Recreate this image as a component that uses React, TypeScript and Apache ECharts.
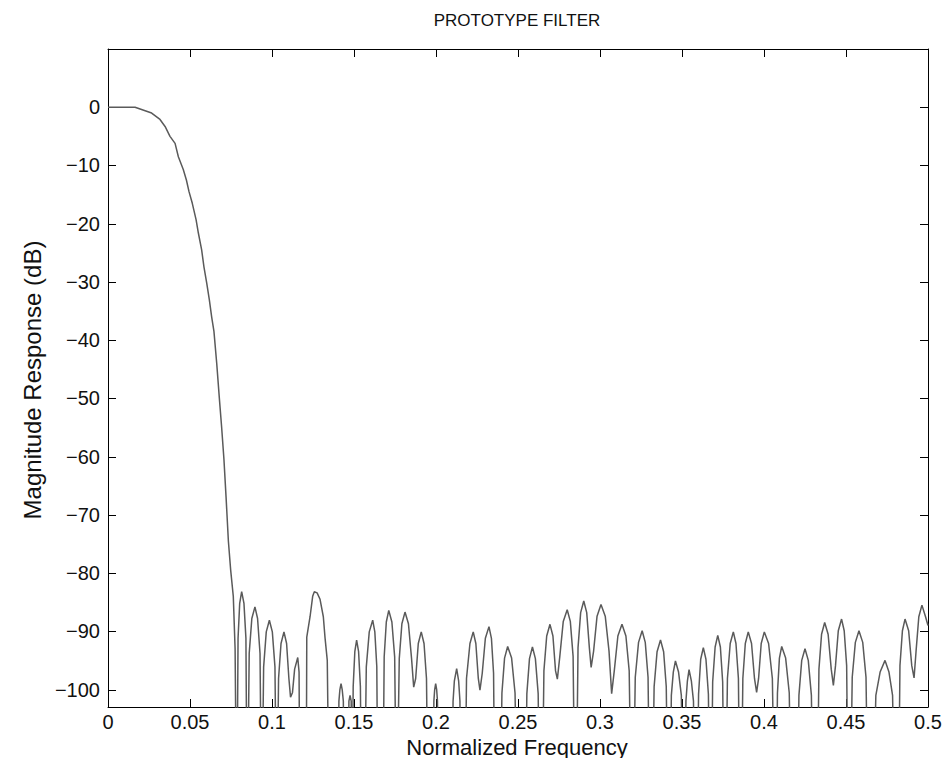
import React, { useEffect, useRef } from "react";
import * as echarts from "echarts";

// Passband and transition band (normalized frequency, dB)
const transitionPoints: [number, number][] = [
  [0, 0], [0.0165, 0], [0.0266, -1], [0.0317, -2.1], [0.0348, -3.3], [0.0378, -5],
  [0.0409, -6.2], [0.0429, -8.5], [0.0459, -10.7], [0.0478, -12.5], [0.0494, -14.5],
  [0.0514, -16.5], [0.0537, -19.3], [0.0551, -21.6], [0.0571, -24.5], [0.0585, -27.4],
  [0.0602, -30.2], [0.0618, -33.1], [0.0632, -36], [0.0646, -38.5], [0.0663, -44],
  [0.0679, -50], [0.0693, -55], [0.0707, -60.5], [0.072, -67], [0.0734, -74.5],
  [0.0748, -79.5], [0.0764, -84], [0.0775, -93],
];

// Stopband side lobes (nulls fall below the axis floor)
const stopbandPoints: [number, number][] = [
  [0.0785, -125],
  [0.0793, -91.2], [0.0803, -85.2], [0.0815, -83.2], [0.0829, -85.2], [0.0841, -91.2], [0.0849, -125],
  [0.0861, -93.8], [0.0877, -87.8], [0.0896, -85.8], [0.0912, -87.8], [0.0927, -93.8], [0.0937, -125],
  [0.0949, -96.1], [0.0965, -90.1], [0.0984, -88.1], [0.1002, -90.1], [0.1018, -96.1], [0.1029, -125],
  [0.104, -98.1], [0.1055, -92.1], [0.1073, -90.1], [0.1089, -92.1], [0.1103, -98.1], [0.1113, -101.3],
  [0.1125, -100.5], [0.1138, -96.5], [0.1157, -94.5], [0.1165, -97], [0.1171, -125],
  [0.1208, -125], [0.1212, -91], [0.1232, -87.5], [0.1248, -84], [0.1258, -83.2], [0.1275, -83.4],
  [0.1293, -84.5], [0.1313, -87.5], [0.1323, -91], [0.1337, -95], [0.135, -125],
  [0.1402, -125], [0.1408, -102], [0.1414, -100], [0.1421, -99], [0.1428, -100], [0.1435, -102], [0.1441, -125],
  [0.1465, -125], [0.1469, -102], [0.1476, -101], [0.1483, -102], [0.1488, -125],
  [0.1495, -99.5], [0.1505, -93.5], [0.1516, -91.5], [0.1528, -93.5], [0.1539, -99.5], [0.1547, -125],
  [0.1562, -125], [0.1575, -96.1], [0.1593, -90.1], [0.1614, -88.1], [0.1627, -90.1], [0.1639, -96.1], [0.1647, -125],
  [0.1675, -125], [0.1684, -94.4], [0.1697, -88.4], [0.1712, -86.4], [0.1731, -88.4], [0.1748, -94.4], [0.176, -125],
  [0.1764, -125], [0.1776, -94.7], [0.1792, -88.7], [0.1811, -86.7], [0.1832, -88.7], [0.1851, -94.7], [0.1864, -99.6],
  [0.1876, -98.1], [0.1892, -92.1], [0.191, -90.1], [0.1927, -92.1], [0.1942, -98.1], [0.1953, -125],
  [0.1982, -125], [0.1987, -102], [0.1992, -100], [0.1998, -99], [0.2004, -100], [0.2009, -102], [0.2014, -125],
  [0.2099, -125], [0.2104, -102], [0.2112, -98.5], [0.2126, -96.4], [0.2138, -98.5], [0.2146, -102], [0.2152, -125],
  [0.2175, -125], [0.2186, -98.1], [0.2207, -92.1], [0.2227, -90.1], [0.2243, -92.1], [0.2258, -98.1], [0.2268, -100.1],
  [0.2282, -97.2], [0.2301, -91.2], [0.2323, -89.2], [0.2338, -91.2], [0.2351, -97.2], [0.236, -125],
  [0.239, -125], [0.2402, -100.6], [0.2418, -94.6], [0.2437, -92.6], [0.2461, -94.6], [0.2482, -100.6], [0.2497, -125],
  [0.2543, -125], [0.2554, -100.7], [0.257, -94.7], [0.2588, -92.7], [0.2606, -94.7], [0.2623, -100.7], [0.2634, -125],
  [0.2646, -125], [0.2658, -96.8], [0.2675, -90.8], [0.2695, -88.8], [0.2713, -90.8], [0.2729, -96.8], [0.274, -98.2],
  [0.2755, -94.3], [0.2776, -88.3], [0.28, -86.3], [0.2819, -88.3], [0.2836, -94.3], [0.2848, -125],
  [0.2854, -125], [0.2866, -92.8], [0.2882, -86.8], [0.2901, -84.8], [0.2919, -86.8], [0.2935, -92.8], [0.2946, -96.2],
  [0.2961, -93.4], [0.2982, -87.4], [0.3006, -85.4], [0.3032, -87.4], [0.3055, -93.4], [0.3071, -100.7],
  [0.3087, -96.8], [0.3109, -90.8], [0.3134, -88.8], [0.3158, -90.8], [0.3178, -96.8], [0.3193, -125],
  [0.3201, -125], [0.3215, -97.9], [0.3235, -91.9], [0.3257, -89.9], [0.3276, -91.9], [0.3293, -97.9], [0.3305, -125],
  [0.3317, -125], [0.333, -99.5], [0.3348, -93.5], [0.3369, -91.5], [0.3388, -93.5], [0.3404, -99.5], [0.3416, -125],
  [0.3427, -125], [0.3435, -101], [0.3447, -97], [0.346, -95.1], [0.3479, -97], [0.3496, -101], [0.3508, -125],
  [0.3518, -125], [0.3524, -102], [0.3533, -98.5], [0.3543, -96.6], [0.3557, -98.5], [0.357, -102], [0.3579, -125],
  [0.3591, -125], [0.3601, -100.8], [0.3614, -94.8], [0.363, -92.8], [0.3646, -94.8], [0.3661, -100.8], [0.3671, -125],
  [0.3677, -125], [0.3687, -98.7], [0.3702, -92.7], [0.3718, -90.7], [0.3734, -92.7], [0.3748, -98.7], [0.3758, -125],
  [0.3765, -125], [0.3777, -98.1], [0.3794, -92.1], [0.3813, -90.1], [0.3829, -92.1], [0.3844, -98.1], [0.3854, -125],
  [0.386, -125], [0.3871, -98.1], [0.3886, -92.1], [0.3904, -90.1], [0.3924, -92.1], [0.3942, -98.1], [0.3955, -100.5],
  [0.3967, -98.1], [0.3983, -92.1], [0.4002, -90.1], [0.4028, -92.1], [0.4051, -98.1], [0.4067, -125],
  [0.4073, -125], [0.4082, -100.6], [0.4094, -94.6], [0.4108, -92.6], [0.4132, -94.6], [0.4154, -100.6], [0.4169, -125],
  [0.4201, -125], [0.4213, -101], [0.423, -95], [0.425, -93], [0.427, -95], [0.4289, -101], [0.4301, -125],
  [0.4323, -125], [0.4335, -96.5], [0.4351, -90.5], [0.437, -88.5], [0.4391, -90.5], [0.441, -96.5], [0.4423, -99.3],
  [0.4436, -95.9], [0.4453, -89.9], [0.4473, -87.9], [0.4489, -89.9], [0.4504, -95.9], [0.4514, -125],
  [0.4524, -125], [0.4538, -97.9], [0.4557, -91.9], [0.4579, -89.9], [0.4602, -91.9], [0.4622, -97.9], [0.4636, -125],
  [0.4663, -125], [0.4682, -101], [0.4708, -97], [0.4738, -95], [0.4762, -97], [0.4784, -101], [0.4799, -125],
  [0.4819, -125], [0.4829, -95.9], [0.4844, -89.9], [0.486, -87.9], [0.4882, -89.9], [0.4901, -95.9], [0.4915, -98],
  [0.4927, -93.5], [0.4944, -87.5], [0.4963, -85.5], [0.4985, -87.5], [0.5, -89],
];

const xTicks = [0, 0.05, 0.1, 0.15, 0.2, 0.25, 0.3, 0.35, 0.4, 0.45, 0.5];
const yTicks = [0, -10, -20, -30, -40, -50, -60, -70, -80, -90, -100];
const xMin = 0;
const xMax = 0.5;
const yMin = -103;
const yMax = 10;

const titleText = "PROTOTYPE FILTER";
const xLabelText = "Normalized Frequency";
const yLabelText = "Magnitude Response (dB)";

const FONT = "'Liberation Sans', Arial, Helvetica, sans-serif";
const TICK_LEN = 8;

export default function App() {
  const ref = useRef<HTMLDivElement>(null);
  useEffect(() => {
    document.body.style.margin = "0";
    if (!ref.current) return;
    const chart = echarts.init(ref.current, null, { renderer: "svg" });
    const mkLine = () => ({ show: true, onZero: false, lineStyle: { color: "#000", width: 1 } });
    const fmtX = (v: number) => String(parseFloat(v.toFixed(2)));
    const fmtY = (v: number) => (v < 0 ? "\u2212" + String(Math.abs(v)) : String(v));
    const texts = [
      { type: "text", x: 517, y: 20, style: { text: titleText, fill: "#111", font: `17px ${FONT}`, align: "center", verticalAlign: "middle" } },
      { type: "text", x: 517, y: 747, style: { text: xLabelText, fill: "#111", font: `22px ${FONT}`, align: "center", verticalAlign: "middle" } },
      { type: "text", x: 32, y: 380, rotation: Math.PI / 2, style: { text: yLabelText, fill: "#111", font: `24px ${FONT}`, align: "center", verticalAlign: "middle" } },
    ];
    chart.setOption({
      animation: false,
      backgroundColor: "#fff",
      grid: { left: 108, right: 17, top: 49, bottom: 51, containLabel: false },
      xAxis: [
        {
          type: "value", min: xMin, max: xMax, position: "bottom",
          axisLine: mkLine(), axisTick: { show: false }, splitLine: { show: false },
          axisLabel: { show: true, margin: 5, color: "#111", fontFamily: FONT, fontSize: 20, customValues: xTicks, formatter: fmtX },
        },
        {
          type: "value", min: xMin, max: xMax, position: "top",
          axisLine: mkLine(), axisTick: { show: false }, splitLine: { show: false }, axisLabel: { show: false },
        },
      ],
      yAxis: [
        {
          type: "value", min: yMin, max: yMax, position: "left",
          axisLine: mkLine(), splitLine: { show: false }, axisTick: { show: false },
          axisLabel: { show: true, margin: 8, color: "#111", fontFamily: FONT, fontSize: 20, customValues: yTicks, formatter: fmtY },
        },
        {
          type: "value", min: yMin, max: yMax, position: "right",
          axisLine: mkLine(), splitLine: { show: false }, axisTick: { show: false }, axisLabel: { show: false },
        },
      ],
      graphic: texts,
      series: [
        {
          type: "line", xAxisIndex: 0, yAxisIndex: 0, showSymbol: false, symbol: "none", clip: true,
          lineStyle: { color: "#5a5a5a", width: 1.5 },
          data: [...transitionPoints, ...stopbandPoints],
        },
      ],
    });

    // Inward tick marks on all four sides, positioned through the axes' scales
    const px = (v: number) => chart.convertToPixel({ xAxisIndex: 0 }, v) as number;
    const py = (v: number) => chart.convertToPixel({ yAxisIndex: 0 }, v) as number;
    const left = px(xMin), right = px(xMax), top = py(yMax), bottom = py(yMin);
    const tickStyle = { stroke: "#000", lineWidth: 1 };
    const ticks: any[] = [];
    xTicks.forEach((v) => {
      const x = Math.round(px(v)) + 0.5;
      ticks.push({ type: "line", silent: true, shape: { x1: x, y1: bottom, x2: x, y2: bottom - TICK_LEN }, style: tickStyle });
      ticks.push({ type: "line", silent: true, shape: { x1: x, y1: top, x2: x, y2: top + TICK_LEN }, style: tickStyle });
    });
    yTicks.forEach((v) => {
      const y = Math.round(py(v)) + 0.5;
      ticks.push({ type: "line", silent: true, shape: { x1: left, y1: y, x2: left + TICK_LEN, y2: y }, style: tickStyle });
      ticks.push({ type: "line", silent: true, shape: { x1: right, y1: y, x2: right - TICK_LEN, y2: y }, style: tickStyle });
    });
    chart.setOption({ graphic: [...texts, ...ticks] });
    return () => chart.dispose();
  }, []);
  return <div ref={ref} style={{ width: 945, height: 758 }} />;
}
